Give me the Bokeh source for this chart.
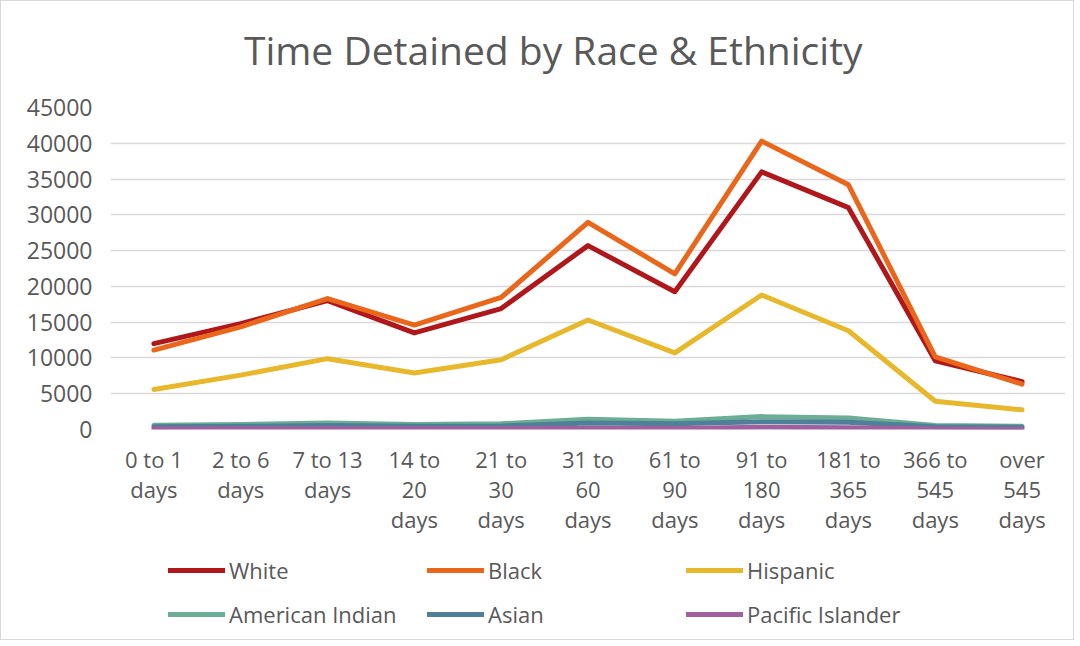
from bokeh.plotting import figure
from bokeh.models import FactorRange, Range1d, FixedTicker, Legend, LegendItem, Label
from bokeh.layouts import column
from bokeh.embed import file_html
from bokeh.resources import INLINE

categories = ["0 to 1 days", "2 to 6 days", "7 to 13 days", "14 to 20 days",
              "21 to 30 days", "31 to 60 days", "61 to 90 days", "91 to 180 days",
              "181 to 365 days", "366 to 545 days", "over 545 days"]
tick_labels = ["0 to 1\ndays", "2 to 6\ndays", "7 to 13\ndays", "14 to\n20\ndays",
               "21 to\n30\ndays", "31 to\n60\ndays", "61 to\n90\ndays", "91 to\n180\ndays",
               "181 to\n365\ndays", "366 to\n545\ndays", "over\n545\ndays"]

white = [12000, 14800, 18000, 13500, 16900, 25700, 19250, 36000, 31000, 9600, 6700]
black = [11100, 14350, 18300, 14600, 18450, 28950, 21750, 40300, 34200, 10150, 6350]
hispanic = [5600, 7600, 9900, 7900, 9750, 15300, 10700, 18800, 13800, 3950, 2750]
american_indian = [600, 700, 900, 700, 800, 1450, 1150, 1800, 1600, 550, 450]
asian = [400, 450, 550, 450, 500, 900, 800, 1100, 1000, 400, 300]
pacific_islander = [80, 90, 120, 90, 100, 180, 150, 300, 250, 70, 50]

series_names = ["White", "Black", "Hispanic", "American Indian", "Asian", "Pacific Islander"]
series_values = [white, black, hispanic, american_indian, asian, pacific_islander]
series_colors = ["#B0171B", "#E9661A", "#E8B82C", "#6BAE93", "#4F7F99", "#A0609E"]

y_ticks = list(range(0, 45001, 5000))

FONT = "Open Sans"
GREY = "#595959"

label_of = dict(zip(categories, tick_labels))
x_factors = [label_of[c] for c in categories]

W = 1072

# ---- title strip ----
tf = figure(width=W, height=90, output_backend="svg", toolbar_location=None,
            x_axis_location=None, y_axis_location=None,
            x_range=Range1d(0, W), y_range=Range1d(0, 90), min_border=0)
tf.outline_line_color = None
tf.grid.visible = False
tf.background_fill_color = "white"
tf.border_fill_color = "white"
tf.add_layout(Label(x=497, y=42, text="Time Detained by Race & Ethnicity",
                    text_align="center", text_baseline="middle",
                    text_font=FONT, text_font_size="39px", text_color=GREY))

# ---- main chart ----
p = figure(x_range=FactorRange(*x_factors, range_padding=0),
           y_range=Range1d(0, 45000),
           width=W, height=455, output_backend="svg", toolbar_location=None,
           min_border_left=109, min_border_right=8, min_border_top=16, min_border_bottom=117)
p.outline_line_color = None
p.background_fill_color = "white"
p.border_fill_color = "white"

p.xgrid.grid_line_color = None
p.ygrid.grid_line_color = "#D9D9D9"
p.ygrid.grid_line_width = 1.3
p.ygrid.ticker = FixedTicker(ticks=y_ticks)

p.yaxis.ticker = FixedTicker(ticks=y_ticks)
p.yaxis.axis_line_color = None
p.yaxis.major_tick_line_color = None
p.yaxis.minor_tick_line_color = None
p.yaxis.major_label_standoff = 12
p.yaxis.major_label_text_font = FONT
p.yaxis.major_label_text_font_size = "23px"
p.yaxis.major_label_text_color = GREY

p.xaxis.axis_line_color = None
p.xaxis.major_tick_line_color = None
p.xaxis.minor_tick_line_color = None
p.xaxis.major_label_standoff = 8
p.xaxis.major_label_text_font = FONT
p.xaxis.major_label_text_font_size = "22px"
p.xaxis.major_label_text_color = GREY
p.xaxis.major_label_text_line_height = 1.0

for name, vals, col in zip(series_names, series_values, series_colors):
    p.line(x_factors, vals, line_color=col, line_width=5,
           line_join="round", line_cap="round")

# ---- legend strip ----
lg = figure(width=W, height=93, output_backend="svg", toolbar_location=None,
            x_axis_location=None, y_axis_location=None,
            x_range=Range1d(0, 1), y_range=Range1d(0, 1), min_border=0)
lg.outline_line_color = None
lg.grid.visible = False
lg.background_fill_color = "white"
lg.border_fill_color = "white"

items = []
for name, col in zip(series_names, series_colors):
    # key swatches only: the points lie outside this strip's ranges
    r = lg.line([5, 6], [5, 5], line_color=col, line_width=5, line_cap="round")
    items.append(LegendItem(label=name, renderers=[r]))

legend = Legend(items=items, orientation="horizontal", ncols=3,
                location=(58, 10), glyph_width=57, glyph_height=20,
                label_height=20, label_width=184, label_standoff=4, spacing=14,
                padding=5, margin=0,
                label_text_font=FONT, label_text_font_size="22px",
                label_text_color=GREY, background_fill_alpha=0,
                border_line_color=None)
lg.add_layout(legend, "center")

layout = column(tf, p, lg, spacing=0, styles={"border": "1px solid #D9D9D9"})

open("out.html", "w").write(file_html(layout, INLINE))
